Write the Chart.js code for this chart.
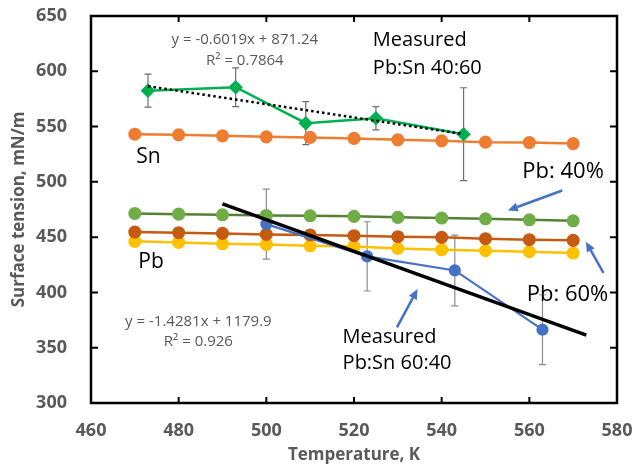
<!DOCTYPE html>
<html>
<head>
<meta charset="utf-8">
<script src="https://cdn.jsdelivr.net/npm/chart.js@4.4.0/dist/chart.umd.min.js"></script>
<style>
  body { margin: 0; background: #fff; }
  #wrap { width: 635px; height: 466px; }
</style>
</head>
<body>
<div id="wrap"><canvas id="myChart" width="635" height="466"></canvas></div>
<script>
// model curves, temperature in K
const temps = [470, 480, 490, 500, 510, 520, 530, 540, 550, 560, 570];
const snVals = [543.1, 542.5, 541.6, 540.7, 540.2, 539.3, 538.0, 537.1, 535.9, 535.6, 534.6];
const pb40Vals = [471.4, 470.8, 470.2, 469.6, 469.3, 468.8, 467.9, 467.3, 466.6, 465.7, 464.8];
const pb60Vals = [454.6, 454.0, 453.4, 452.5, 452.0, 451.3, 450.4, 449.8, 448.6, 447.7, 447.1];
const pbVals = [446.2, 445.2, 444.0, 443.4, 442.2, 441.6, 439.8, 438.6, 437.7, 436.8, 435.6];

// measured Pb:Sn 40:60
const m4060T = [473, 493, 509, 525, 545];
const m4060Vals = [582.5, 585.6, 553.1, 557.6, 543.1];
const m4060Err = [15, 17.5, 19.5, 10.5, 42];
// measured Pb:Sn 60:40
const m6040T = [500, 523, 543, 563];
const m6040Vals = [461.8, 432.6, 419.9, 366.3];
const m6040Err = [31.6, 31.3, 32, 31.6];

// trend line end points
const fit4060T = [473, 545];
const fit4060Vals = [586.5, 543.2];
const fit6040T = [490, 573];
const fit6040Vals = [480.1, 361.3];

const xTicks = [460, 480, 500, 520, 540, 560, 580];
const yTicks = [300, 350, 400, 450, 500, 550, 600, 650];

const FONT = "'Open Sans', sans-serif";

function pts(xs, ys) {
    return xs.map((x, i) => ({ x: x, y: ys[i] }));
}

function modelSet(vals, line, point, order) {
    return {
        data: pts(temps, vals),
        showLine: true,
        borderColor: line,
        backgroundColor: point,
        pointBackgroundColor: point,
        pointBorderColor: point,
        borderWidth: 2.5,
        pointRadius: 5.3,
        order: order
    };
}

// error bars under the markers
const errorBars = {
    id: 'errorBars',
    beforeDatasetsDraw(chart) {
        const ctx = chart.ctx;
        const xs = chart.scales.x, ys = chart.scales.y;
        const draw = (t, v, e, color) => {
            ctx.save();
            ctx.strokeStyle = color;
            ctx.lineWidth = 1.2;
            t.forEach((tt, i) => {
                const px = xs.getPixelForValue(tt);
                const top = ys.getPixelForValue(v[i] + e[i]);
                const bot = ys.getPixelForValue(v[i] - e[i]);
                ctx.beginPath();
                ctx.moveTo(px, top); ctx.lineTo(px, bot);
                ctx.moveTo(px - 3.5, top); ctx.lineTo(px + 3.5, top);
                ctx.moveTo(px - 3.5, bot); ctx.lineTo(px + 3.5, bot);
                ctx.stroke();
            });
            ctx.restore();
        };
        draw(m4060T, m4060Vals, m4060Err, '#6f6f6f');
        draw(m6040T, m6040Vals, m6040Err, '#8c8c8c');
    }
};

// frame with inside ticks
const frame = {
    id: 'frame',
    afterDraw(chart) {
        const ctx = chart.ctx;
        const a = chart.chartArea;
        const xs = chart.scales.x, ys = chart.scales.y;
        ctx.save();
        ctx.strokeStyle = '#000';
        ctx.lineWidth = 2.5;
        ctx.strokeRect(a.left, a.top, a.right - a.left, a.bottom - a.top);
        ctx.lineWidth = 2;
        ctx.beginPath();
        xTicks.forEach(v => {
            const px = xs.getPixelForValue(v);
            ctx.moveTo(px, a.bottom); ctx.lineTo(px, a.bottom - 6);
            ctx.moveTo(px, a.top); ctx.lineTo(px, a.top + 6);
        });
        yTicks.forEach(v => {
            const py = ys.getPixelForValue(v);
            ctx.moveTo(a.left, py); ctx.lineTo(a.left + 7, py);
            ctx.moveTo(a.right, py); ctx.lineTo(a.right - 7, py);
        });
        ctx.stroke();
        ctx.restore();
    }
};

// labels and arrows, placed in data coordinates
const notes = [
    { t: 'y = -0.6019x + 871.24', x: 495.1, y: 628.3, size: 15, color: '#595959', align: 'center' },
    { t: 'R² = 0.7864', x: 495.1, y: 609.3, size: 15, color: '#595959', align: 'center' },
    { t: 'Measured', x: 524.3, y: 628.3, size: 20, color: '#000', align: 'left' },
    { t: 'Pb:Sn 40:60', x: 524.3, y: 603.0, size: 20, color: '#000', align: 'left' },
    { t: 'Sn', x: 470.3, y: 522.9, size: 21, color: '#000', align: 'left' },
    { t: 'Pb: 40%', x: 558.4, y: 509.3, size: 22, color: '#000', align: 'left' },
    { t: 'Pb', x: 470.8, y: 427.5, size: 21, color: '#000', align: 'left' },
    { t: 'y = -1.4281x + 1179.9', x: 484.5, y: 373.8, size: 15, color: '#595959', align: 'center' },
    { t: 'R² = 0.926', x: 484.5, y: 355.2, size: 15, color: '#595959', align: 'center' },
    { t: 'Measured', x: 517.4, y: 359.8, size: 20, color: '#000', align: 'left' },
    { t: 'Pb:Sn 60:40', x: 517.4, y: 335.6, size: 20, color: '#000', align: 'left' },
    { t: 'Pb: 60%', x: 559.4, y: 397.5, size: 22, color: '#000', align: 'left' }
];
const arrows = [
    [567.5, 492.2, 555.1, 474.1],
    [576.9, 417.6, 572.9, 445.9],
    [529.8, 368.4, 534.5, 403.1]
];

const annotate = {
    id: 'annotate',
    afterDatasetsDraw(chart) {
        const ctx = chart.ctx;
        const xs = chart.scales.x, ys = chart.scales.y;
        ctx.save();
        ctx.textBaseline = 'middle';
        notes.forEach(n => {
            ctx.font = n.size + 'px ' + FONT;
            ctx.fillStyle = n.color;
            ctx.textAlign = n.align;
            ctx.fillText(n.t, xs.getPixelForValue(n.x), ys.getPixelForValue(n.y));
        });
        ctx.strokeStyle = '#4472C4';
        ctx.fillStyle = '#4472C4';
        ctx.lineWidth = 2.5;
        arrows.forEach(a => {
            const x1 = xs.getPixelForValue(a[0]), y1 = ys.getPixelForValue(a[1]);
            const x2 = xs.getPixelForValue(a[2]), y2 = ys.getPixelForValue(a[3]);
            const ang = Math.atan2(y2 - y1, x2 - x1);
            const hl = 10, hw = 4.5;
            const bx = x2 - hl * Math.cos(ang), by = y2 - hl * Math.sin(ang);
            ctx.beginPath();
            ctx.moveTo(x1, y1); ctx.lineTo(bx, by);
            ctx.stroke();
            ctx.beginPath();
            ctx.moveTo(x2, y2);
            ctx.lineTo(bx + hw * Math.sin(ang), by - hw * Math.cos(ang));
            ctx.lineTo(bx - hw * Math.sin(ang), by + hw * Math.cos(ang));
            ctx.closePath();
            ctx.fill();
        });
        ctx.restore();
    }
};

const ctx = document.getElementById('myChart');
const myChart = new Chart(ctx, {
    type: 'scatter',
    data: {
        datasets: [
            {
                data: pts(fit6040T, fit6040Vals), showLine: true, borderColor: '#000',
                borderWidth: 3.5, pointRadius: 0, order: 0
            },
            {
                data: pts(fit4060T, fit4060Vals), showLine: true, borderColor: '#000',
                borderWidth: 2.5, borderDash: [2.5, 3], pointRadius: 0, order: 1
            },
            {
                data: pts(m4060T, m4060Vals), showLine: true, borderColor: '#00B050',
                backgroundColor: '#00B050', borderWidth: 2.5, pointStyle: 'rectRot',
                pointRadius: 5.5, order: 2
            },
            {
                data: pts(m6040T, m6040Vals), showLine: true, borderColor: '#4472C4',
                backgroundColor: '#4472C4', borderWidth: 2.2, pointRadius: 5, order: 3
            },
            modelSet(snVals, '#ED7D31', '#ED7D31', 4),
            modelSet(pb40Vals, '#548235', '#70AD47', 5),
            modelSet(pb60Vals, '#C55A11', '#C55A11', 6),
            modelSet(pbVals, '#FFC000', '#FFC000', 7)
        ]
    },
    options: {
        responsive: false,
        animation: false,
        events: [],
        layout: { padding: { left: 0, right: 18, top: 16, bottom: 0 } },
        plugins: { legend: { display: false }, tooltip: { enabled: false } },
        scales: {
            x: {
                type: 'linear', min: 460, max: 580,
                afterBuildTicks: s => { s.ticks = xTicks.map(v => ({ value: v })); },
                grid: { display: false, drawTicks: false },
                border: { display: false },
                ticks: { color: '#595959', font: { family: FONT, size: 18, weight: 'bold' }, padding: 17, maxRotation: 0 },
                title: { display: true, text: 'Temperature, K', color: '#595959',
                    font: { family: FONT, size: 17, weight: 'bold' }, padding: { top: 0, bottom: 1 } },
                afterFit: s => { s.height = 63; s.paddingLeft = 0; s.paddingRight = 0; }
            },
            y: {
                type: 'linear', min: 300, max: 650,
                afterBuildTicks: s => { s.ticks = yTicks.map(v => ({ value: v })); },
                grid: { display: false, drawTicks: false },
                border: { display: false },
                ticks: { color: '#595959', font: { family: FONT, size: 18, weight: 'bold' }, padding: 24 },
                title: { display: true, text: 'Surface tension, mN/m', color: '#595959',
                    font: { family: FONT, size: 17, weight: 'bold' }, padding: { top: 9, bottom: 0 } },
                afterFit: s => { s.width = 91; s.paddingTop = 0; s.paddingBottom = 0; }
            }
        }
    },
    plugins: [errorBars, annotate, frame]
});
</script>
</body>
</html>
